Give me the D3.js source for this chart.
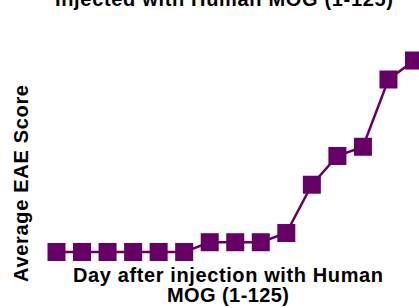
<!DOCTYPE html>
<html>
<head>
<meta charset="utf-8">
<script src="https://cdn.jsdelivr.net/npm/d3@7"></script>
<style>
  body { margin: 0; background: #fff; }
  text { font-family: "Liberation Sans", Arial, sans-serif; font-weight: bold; fill: #000; }
</style>
</head>
<body>
<script>
// data
var days = [1, 2, 3, 4, 5, 6, 7, 8, 9, 10, 11, 12, 13, 14, 15];
var scores = [0, 0, 0, 0, 0, 0, 0.17, 0.17, 0.17, 0.33, 1.17, 1.67, 1.83, 3.0, 3.33];
var titleText = "Injected with Human MOG (1-125)";
var xLabelLines = ["Day after injection with Human", "MOG (1-125)"];
var yLabelText = "Average EAE Score";

var width = 419;
var height = 308;
var purple = "#660066";

var svg = d3.select("body")
  .append("svg")
    .attr("width", width)
    .attr("height", height);

//Scales
var x = d3.scaleLinear()
    .domain([1, 15])
    .range([56.5, 414]);

var y = d3.scaleLinear()
    .domain([0, 4])
    .range([252, 22]);

//Title (only its last line is in view)
svg.append("text")
    .attr("x", 224)
    .attr("y", 6)
    .attr("text-anchor", "middle")
    .attr("textLength", 338)
    .attr("lengthAdjust", "spacing")
    .style("font-size", "20px")
    .text(titleText);

//Line
var line = d3.line()
    .x((d, i) => x(days[i]))
    .y(d => y(d));

svg.append("path")
    .datum(scores)
    .attr("fill", "none")
    .attr("stroke", purple)
    .attr("stroke-width", 2.5)
    .attr("d", line);

//Markers
var size = 18;
svg.selectAll("rect.marker")
  .data(scores)
  .enter()
  .append("rect")
    .attr("class", "marker")
    .attr("x", (d, i) => x(days[i]) - size / 2)
    .attr("y", d => y(d) - size / 2)
    .attr("width", size)
    .attr("height", size)
    .attr("fill", purple);

//Labels
var xLens = [310, 122];
svg.selectAll("text.x-label")
  .data(xLabelLines)
  .enter()
  .append("text")
    .attr("class", "x-label")
    .attr("x", 228)
    .attr("y", (d, i) => 282 + i * 20)
    .attr("text-anchor", "middle")
    .attr("textLength", (d, i) => xLens[i])
    .attr("lengthAdjust", "spacing")
    .style("font-size", "20px")
    .text(d => d);

svg.append("text")
    .attr("transform", "translate(28, 183.5) rotate(-90)")
    .attr("text-anchor", "middle")
    .attr("textLength", 197)
    .attr("lengthAdjust", "spacing")
    .style("font-size", "20px")
    .text(yLabelText);
</script>
</body>
</html>
